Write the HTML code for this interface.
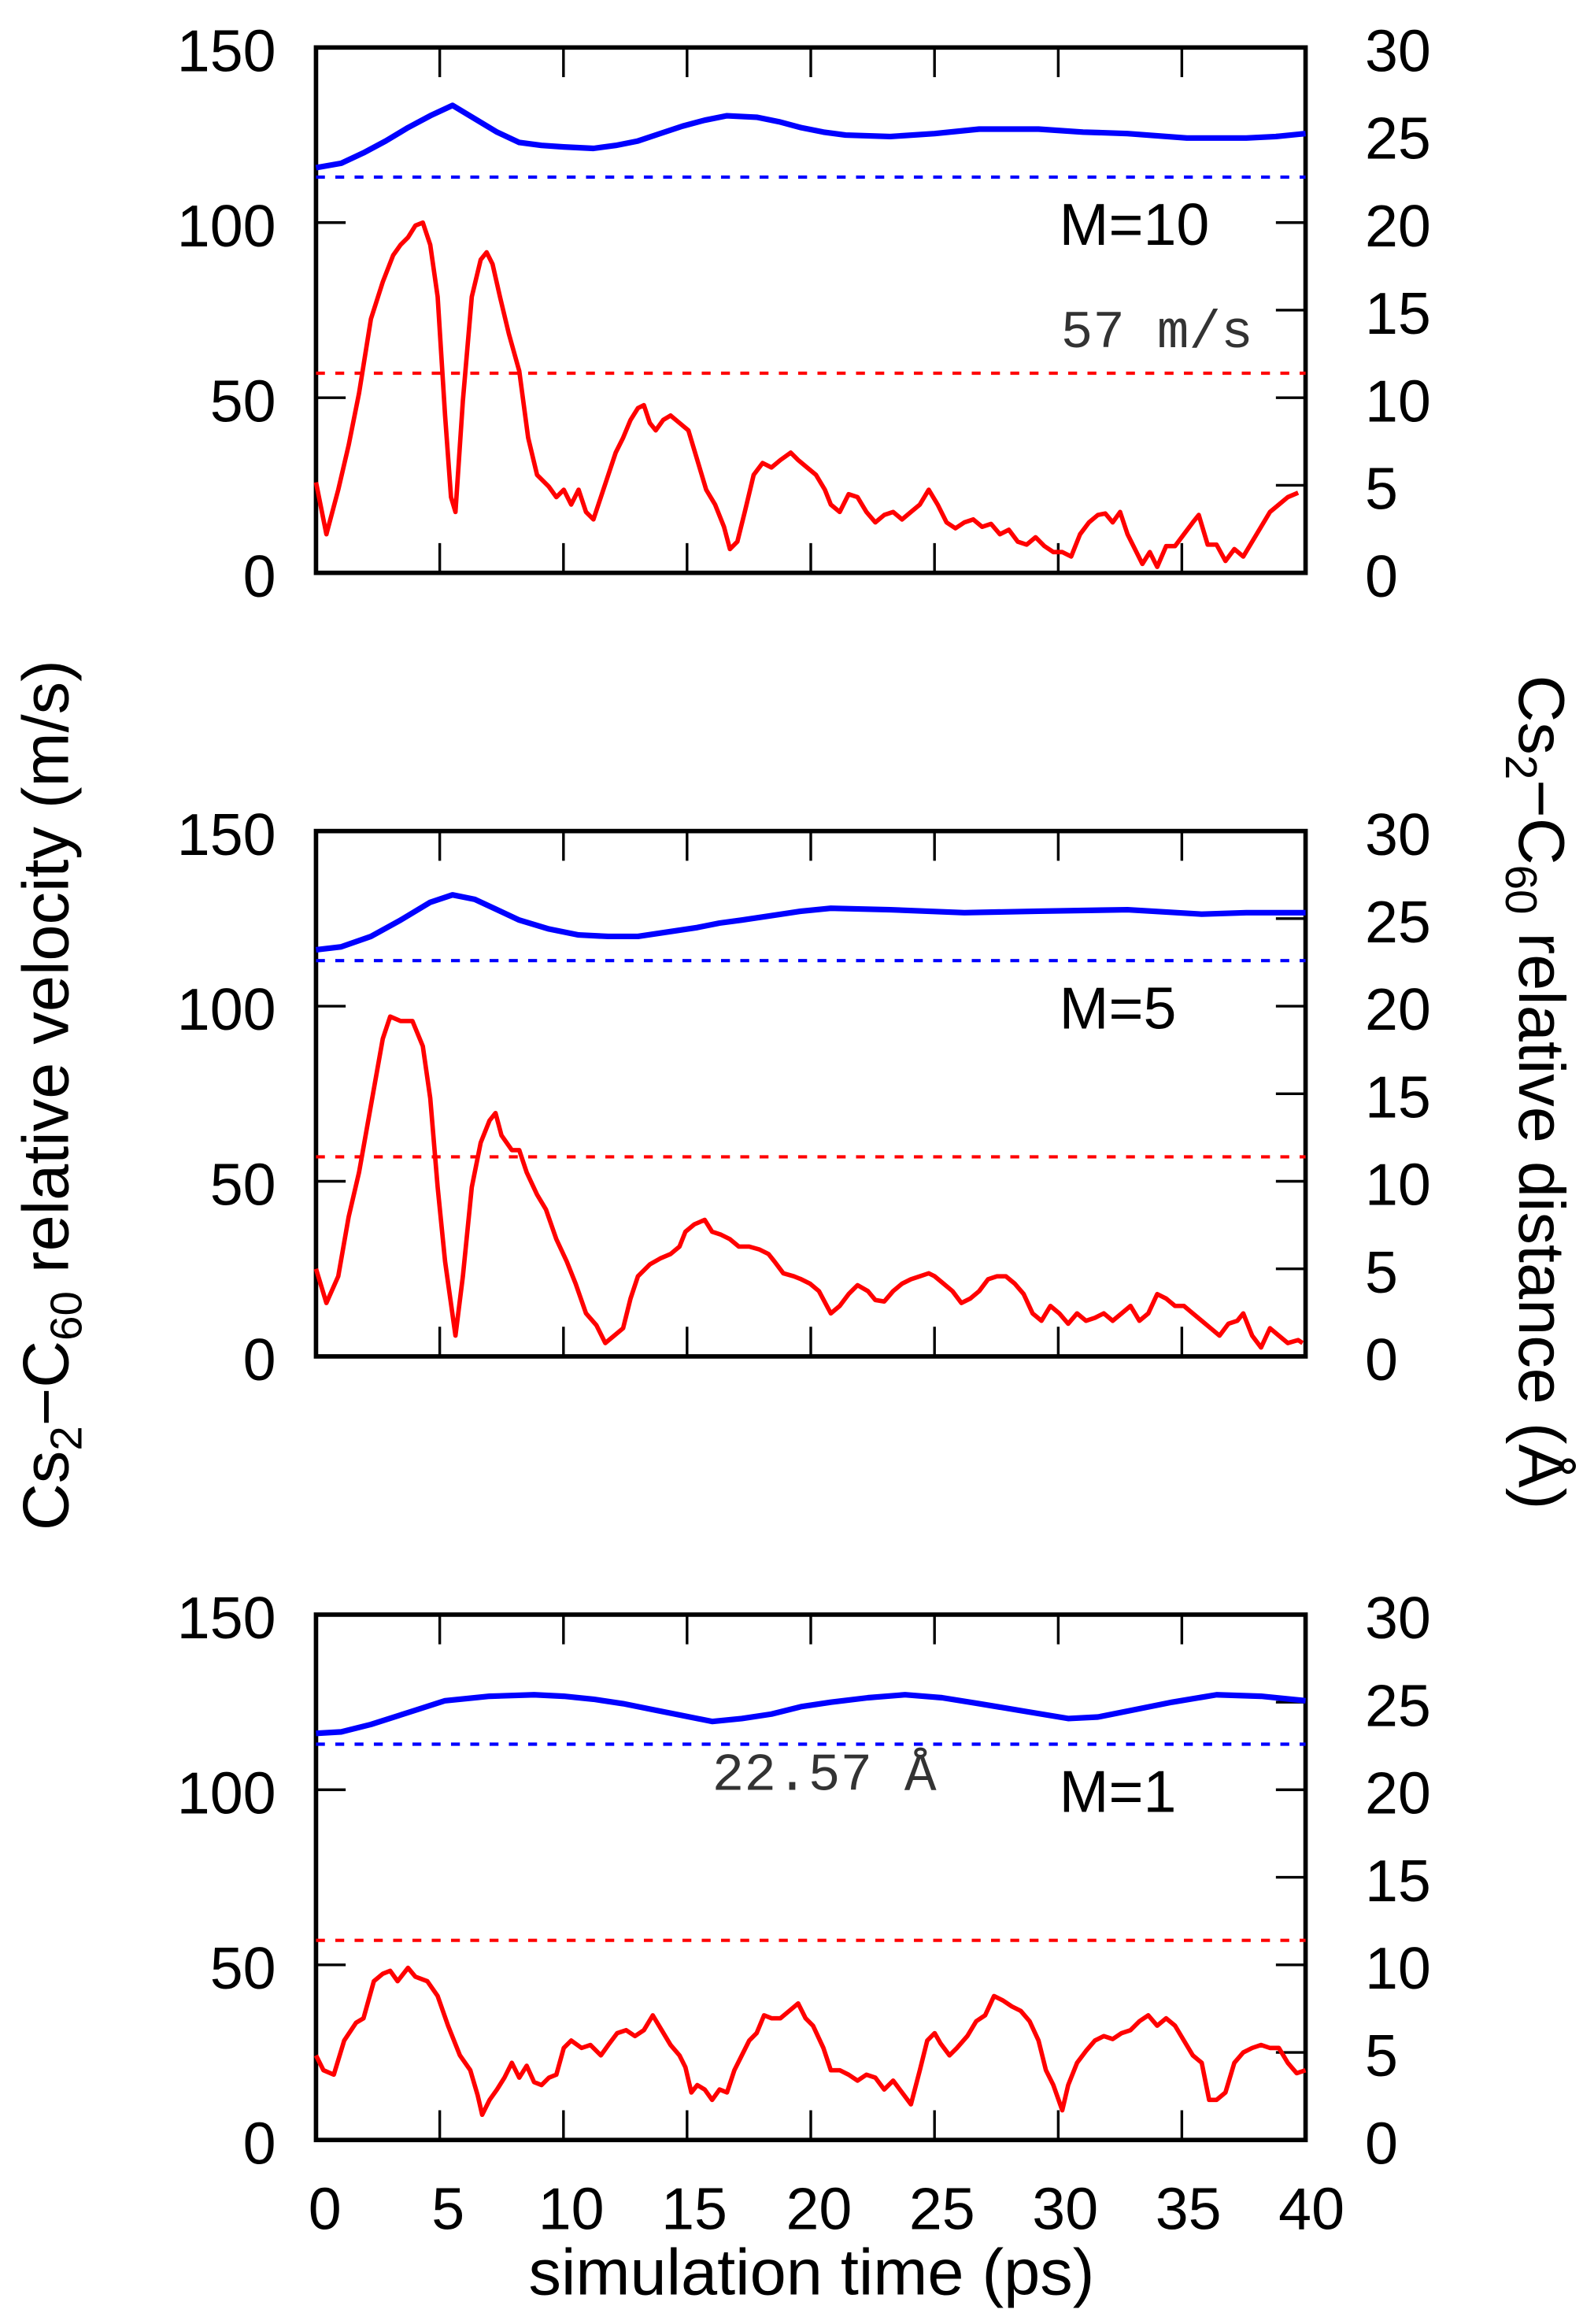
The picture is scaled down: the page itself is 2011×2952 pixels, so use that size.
<!DOCTYPE html>
<html><head><meta charset="utf-8"><style>
html,body{margin:0;padding:0;background:#fff;}
svg{display:block;}
text{font-family:"Liberation Sans",sans-serif;font-size:40px;fill:#000;}
.m{font-family:"Liberation Mono",monospace;font-size:36px;fill:#333;}
.t{font-size:44px;}
</style></head><body>
<svg width="2011" height="2952" viewBox="0 0 1067 1566" preserveAspectRatio="none" xmlns="http://www.w3.org/2000/svg">
<defs>
<g id="frame">
  <rect x="213" y="32" width="667" height="354" fill="none" stroke="#000" stroke-width="3"/>
  <g stroke="#000" stroke-width="1.8">
    <path d="M296.4,386v-20M379.8,386v-20M463.1,386v-20M546.5,386v-20M629.9,386v-20M713.3,386v-20M796.6,386v-20M296.4,32v20M379.8,32v20M463.1,32v20M546.5,32v20M629.9,32v20M713.3,32v20M796.6,32v20"/>
    <path d="M213,150h20M213,268h20"/>
    <path d="M880,327h-20M880,268h-20M880,209h-20M880,150h-20M880,91h-20"/>
  </g>
  <line x1="213" y1="119.3" x2="880" y2="119.3" stroke="#00f" stroke-width="2.2" stroke-dasharray="6,7"/>
  <line x1="213" y1="251.5" x2="880" y2="251.5" stroke="#f00" stroke-width="2.2" stroke-dasharray="6,7"/>
  <g text-anchor="end">
    <text x="186" y="48">150</text><text x="186" y="166">100</text><text x="186" y="284">50</text><text x="186" y="402">0</text>
  </g>
  <g text-anchor="start">
    <text x="920" y="48">30</text><text x="920" y="107">25</text><text x="920" y="166">20</text><text x="920" y="225">15</text><text x="920" y="284">10</text><text x="920" y="343">5</text><text x="920" y="402">0</text>
  </g>
</g>
</defs>

<use href="#frame"/>
<use href="#frame" y="528"/>
<use href="#frame" y="1056"/>

<!-- Panel 1 -->
<polyline fill="none" stroke="#00f" stroke-width="3.8" stroke-linejoin="round" points="213,113 230,110 245,103 260,95 275,86 290,78 305,71 320,80 335,89 350,96 365,98 380,99 400,100 415,98 430,95 445,90 460,85 475,81 490,78 510,79 525,82 540,86 555,89 570,91 600,92 630,90 660,87 700,87 730,89 760,90 800,93 840,93 860,92 880,90"/>
<polyline fill="none" stroke="#f00" stroke-width="3" stroke-linejoin="round" points="213,325 220,360 228,330 235,300 242,265 250,215 258,190 265,172 270,165 275,160 280,152 285,150 290,165 295,200 300,280 304,335 307,345 312,270 318,200 324,175 328,170 332,178 337,200 343,225 350,250 356,295 362,320 370,328 375,335 380,330 385,340 390,330 395,345 400,350 405,335 410,320 415,305 420,295 425,283 430,275 434,273 438,285 442,290 447,283 452,280 458,285 464,290 470,310 476,330 482,340 488,355 492,370 497,365 502,345 508,320 514,312 520,315 526,310 533,305 538,310 544,315 550,320 556,330 560,340 566,345 572,333 578,335 584,345 590,352 596,347 602,345 608,350 614,345 620,340 626,330 632,340 638,352 644,356 650,352 656,350 662,355 668,353 674,360 680,357 686,365 692,367 698,362 704,368 710,372 716,372 722,375 728,360 734,352 740,347 745,346 750,352 755,345 760,360 766,372 770,380 775,372 780,382 786,368 792,368 798,360 804,352 808,347 814,367 820,367 826,378 832,370 838,375 844,365 850,355 856,345 862,340 868,335 875,332"/>
<text x="714" y="165">M=10</text>
<text class="m" x="715" y="234">57 m/s</text>

<!-- Panel 2 -->
<g transform="translate(0,528)">
<polyline fill="none" stroke="#00f" stroke-width="3.8" stroke-linejoin="round" points="213,112 230,110 250,103 270,92 290,80 305,75 320,78 335,85 350,92 370,98 390,102 410,103 430,103 450,100 470,97 485,94 500,92 520,89 540,86 560,84 600,85 650,87 700,86 760,85 810,88 840,87 880,87"/>
</g>
<polyline fill="none" stroke="#f00" stroke-width="3" stroke-linejoin="round" points="213,855 220,878 228,860 235,820 242,790 250,745 258,700 263,685 270,688 278,688 285,705 290,740 295,800 300,850 307,900 312,860 318,800 324,770 330,755 334,750 338,765 345,775 350,775 355,790 362,805 368,815 375,835 382,850 388,865 395,885 402,893 408,905 414,900 420,895 425,875 430,860 438,852 445,848 452,845 458,840 462,830 468,825 475,822 480,830 486,832 492,835 498,840 505,840 512,842 518,845 522,850 528,858 535,860 540,862 546,865 552,870 560,885 566,880 572,872 578,866 585,870 590,876 596,877 602,870 608,865 614,862 620,860 626,858 630,860 636,865 642,870 648,878 654,875 660,870 666,862 672,860 678,860 684,865 690,872 696,885 702,890 708,880 714,885 720,892 726,885 732,890 738,888 744,885 750,890 756,885 762,880 768,890 774,885 780,872 786,875 792,880 798,880 804,885 810,890 816,895 822,900 828,892 834,890 838,885 844,900 850,908 856,895 862,900 868,905 875,903 878,905"/>
<text x="714" y="693">M=5</text>

<!-- Panel 3 -->
<g transform="translate(0,1056)">
<polyline fill="none" stroke="#00f" stroke-width="3.8" stroke-linejoin="round" points="213,112 230,111 250,106 275,98 300,90 330,87 360,86 380,87 400,89 420,92 440,96 460,100 480,104 500,102 520,99 540,94 560,91 585,88 610,86 635,88 660,92 690,97 720,102 740,101 760,97 790,91 820,86 850,87 880,90"/>
</g>
<polyline fill="none" stroke="#f00" stroke-width="3" stroke-linejoin="round" points="213,1385 218,1395 225,1398 232,1375 240,1363 245,1360 252,1335 258,1330 263,1328 268,1335 275,1326 280,1332 288,1335 295,1345 302,1365 310,1385 317,1395 322,1412 325,1425 330,1415 335,1408 340,1400 345,1390 350,1400 355,1392 360,1403 365,1405 370,1400 375,1398 380,1380 385,1375 392,1380 398,1378 405,1385 410,1378 416,1370 422,1368 428,1372 434,1368 440,1358 446,1368 452,1378 458,1385 462,1393 466,1410 470,1405 475,1408 480,1415 485,1408 490,1410 495,1395 500,1385 505,1375 510,1370 515,1358 520,1360 526,1360 532,1355 538,1350 543,1360 548,1365 555,1380 560,1395 566,1395 572,1398 578,1402 584,1398 590,1400 596,1408 602,1402 608,1410 614,1418 620,1395 625,1375 630,1370 634,1377 640,1385 645,1380 652,1372 658,1362 664,1358 670,1345 676,1348 682,1352 688,1355 694,1362 700,1375 705,1395 710,1405 716,1422 720,1405 726,1390 732,1382 738,1375 744,1372 750,1374 756,1370 762,1368 768,1362 774,1358 780,1365 786,1360 792,1365 798,1375 804,1385 810,1390 815,1415 820,1415 826,1410 832,1390 838,1383 844,1380 850,1378 856,1380 862,1380 868,1390 874,1397 880,1395"/>
<text x="714" y="1221">M=1</text>
<text class="m" x="480" y="1206">22.57 Å</text>

<g text-anchor="middle">
<text x="219" y="1502">0</text><text x="302" y="1502">5</text><text x="385" y="1502">10</text><text x="468" y="1502">15</text><text x="552" y="1502">20</text><text x="635" y="1502">25</text><text x="718" y="1502">30</text><text x="801" y="1502">35</text><text x="884" y="1502">40</text>
<text class="t" x="547" y="1546">simulation time (ps)</text>
</g>

<text class="t" transform="translate(46,738) rotate(-90)" text-anchor="middle">Cs<tspan font-size="30" dy="9">2</tspan><tspan dy="-9">−C</tspan><tspan font-size="30" dy="9">60</tspan><tspan dy="-9"> relative velocity (m/s)</tspan></text>
<text class="t" transform="translate(1024,736) rotate(90)" text-anchor="middle">Cs<tspan font-size="30" dy="9">2</tspan><tspan dy="-9">−C</tspan><tspan font-size="30" dy="9">60</tspan><tspan dy="-9"> relative distance (Å)</tspan></text>
</svg>
</body></html>
